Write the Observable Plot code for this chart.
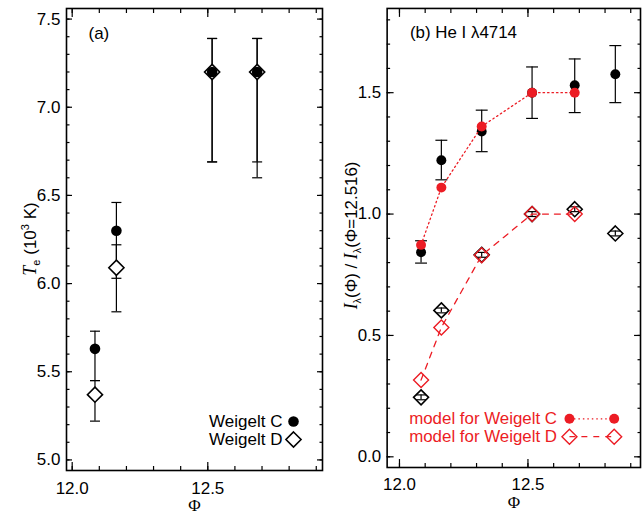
<!DOCTYPE html>
<html><head><meta charset="utf-8">
<script src="https://cdn.jsdelivr.net/npm/d3@7"></script>
<script src="https://cdn.jsdelivr.net/npm/@observablehq/plot@0.6"></script>
<style>
html,body{margin:0;padding:0;background:#fff;overflow:hidden;}
#wrap{position:relative;width:642px;height:514px;overflow:hidden;background:#fff;}
#pa{position:absolute;left:0;top:0;}
#pb{position:absolute;left:330px;top:0;}
svg{overflow:visible;}
</style></head><body><div id="wrap"><div id="pa"></div><div id="pb"></div></div>
<script>
// ---------- Panel (a): electron temperature ----------
const phiA  = [12.084, 12.163, 12.516, 12.682];
const teC   = [5.63, 6.30, 7.20, 7.20];
const teCLo = [5.45, 6.03, 6.69, 6.69];
const teCHi = [5.73, 6.46, 7.39, 7.39];
const teD   = [5.37, 6.09, 7.20, 7.20];
const teDLo = [5.22, 5.84, 6.69, 6.60];
const teDHi = [5.45, 6.22, 7.39, 7.39];

// ---------- Panel (b): He I 4714 normalised intensity ----------
const phiObs = [12.084, 12.163, 12.320, 12.516, 12.682, 12.840];
const obsC   = [0.843, 1.222, 1.340, 1.500, 1.531, 1.576];
const obsCLo = [0.798, 1.141, 1.257, 1.394, 1.418, 1.459];
const obsCHi = [0.890, 1.304, 1.428, 1.606, 1.639, 1.694];
const obsD   = [0.245, 0.603, 0.832, 1.000, 1.020, 0.920];
const obsDLo = [0.235, 0.593, 0.822, 0.990, 1.010, 0.910];
const obsDHi = [0.255, 0.613, 0.842, 1.010, 1.030, 0.930];
const phiModel = [12.084, 12.163, 12.320, 12.516, 12.682];
const modelC = [0.873, 1.109, 1.361, 1.500, 1.500];
const modelD = [0.316, 0.533, 0.830, 1.000, 1.000];

// ---------- ticks ----------
const xMajor  = [12.0, 12.5];
const xMinor  = [12.0, 12.1, 12.2, 12.3, 12.4, 12.5, 12.6, 12.7, 12.8, 12.9];
const yMajorA = [5.0, 5.5, 6.0, 6.5, 7.0, 7.5];
const yMinorA = d3.range(50, 76).map(v => v / 10);
const yMajorB = [0.0, 0.5, 1.0, 1.5];
const yMinorB = d3.range(0, 19).map(v => v / 10);

const legendA = ["Weigelt C", "Weigelt D"];
const legendB = ["model for Weigelt C", "model for Weigelt D"];

const RED = "#ec1c24";
const FONT = "Liberation Sans, Arial, Helvetica, sans-serif";
const SERIF = "Liberation Serif, DejaVu Serif, Times New Roman, serif";
const FS = 17;

const capSym = {draw(ctx, size) { const w = Math.sqrt(size / Math.PI); ctx.moveTo(-w, 0); ctx.lineTo(w, 0); }};
const fmt1 = d => d.toFixed(1);

function frameAndTicks(yMinor, yMajor, xMaj, yMaj) {
  const tk = {label: null, fill: "none", strokeWidth: 1.2, stroke: "black"};
  return [
    Plot.axisX(xMinor, {...tk, anchor: "bottom", tickSize: -4}),
    Plot.axisX(xMinor, {...tk, anchor: "top", tickSize: -4}),
    Plot.axisX(xMajor, {...tk, anchor: "bottom", tickSize: -xMaj}),
    Plot.axisX(xMajor, {...tk, anchor: "top", tickSize: -xMaj}),
    Plot.axisY(yMinor, {...tk, anchor: "left", tickSize: -3.5}),
    Plot.axisY(yMinor, {...tk, anchor: "right", tickSize: -3.5}),
    Plot.axisY(yMajor, {...tk, anchor: "left", tickSize: -yMaj}),
    Plot.axisY(yMajor, {...tk, anchor: "right", tickSize: -yMaj}),
    Plot.axisX(xMajor, {anchor: "bottom", tickSize: 0, tickPadding: 11, tickFormat: fmt1, label: null, fontSize: FS, fontFamily: FONT, fill: "black"}),
    Plot.axisY(yMajor, {anchor: "left", tickSize: 0, tickPadding: 6, tickFormat: fmt1, label: null, fontSize: FS, fontFamily: FONT, fill: "black"}),
    Plot.frame({stroke: "black", strokeWidth: 1.6}),
    Plot.text(["Φ"], {frameAnchor: "bottom", lineAnchor: "middle", dy: 35, fontFamily: SERIF, fontSize: FS, fill: "black"})
  ];
}

// ---------- Panel (a) ----------
const rowsA = phiA.map((x, i) => ({x, c: teC[i], cLo: teCLo[i], cHi: teCHi[i], d: teD[i], dLo: teDLo[i], dHi: teDHi[i]}));
const plotA = Plot.plot({
  width: 330, height: 514,
  marginLeft: 66, marginRight: 8, marginTop: 8, marginBottom: 44,
  style: {fontFamily: FONT, fontSize: FS + "px", background: "white", color: "black"},
  x: {domain: [11.979, 12.923]},
  y: {domain: [4.94, 7.56]},
  marks: [
    ...frameAndTicks(yMinorA, yMajorA, 8, 6),
    Plot.ruleX(rowsA, {x: "x", y1: "cLo", y2: "cHi", stroke: "black", strokeWidth: 1.2}),
    Plot.dot(rowsA, {x: "x", y: "cLo", symbol: capSym, r: 5, stroke: "black", strokeWidth: 1.2}),
    Plot.dot(rowsA, {x: "x", y: "cHi", symbol: capSym, r: 5, stroke: "black", strokeWidth: 1.2}),
    Plot.ruleX(rowsA, {x: "x", y1: "dLo", y2: "dHi", stroke: "black", strokeWidth: 1.2}),
    Plot.dot(rowsA, {x: "x", y: "dLo", symbol: capSym, r: 5, stroke: "black", strokeWidth: 1.2}),
    Plot.dot(rowsA, {x: "x", y: "dHi", symbol: capSym, r: 5, stroke: "black", strokeWidth: 1.2}),
    Plot.dot(rowsA, {x: "x", y: "d", symbol: "diamond2", r: 6.8, fill: "white", stroke: "black", strokeWidth: 1.6}),
    Plot.dot(rowsA, {x: "x", y: "c", r: 5.3, fill: "black"}),
    Plot.text(["(a)"], {frameAnchor: "top-left", lineAnchor: "middle", dx: 22, dy: 25, textAnchor: "start", fontSize: FS, fill: "black"}),
    Plot.text([legendA[0]], {frameAnchor: "bottom-right", lineAnchor: "middle", dx: -40, dy: -49, textAnchor: "end", fontSize: FS, fill: "black"}),
    Plot.text([legendA[1]], {frameAnchor: "bottom-right", lineAnchor: "middle", dx: -40, dy: -31, textAnchor: "end", fontSize: FS, fill: "black"}),
    Plot.dot([legendA[0]], {frameAnchor: "bottom-right", dx: -29, dy: -49, r: 5.3, fill: "black"}),
    Plot.dot([legendA[1]], {frameAnchor: "bottom-right", dx: -29, dy: -31, symbol: "diamond2", r: 6.8, fill: "white", stroke: "black", strokeWidth: 1.6})
  ]
});

// ---------- Panel (b) ----------
const rowsObs = phiObs.map((x, i) => ({x, c: obsC[i], cLo: obsCLo[i], cHi: obsCHi[i], d: obsD[i], dLo: obsDLo[i], dHi: obsDHi[i]}));
const rowsMod = phiModel.map((x, i) => ({x, c: modelC[i], d: modelD[i]}));
const lineSym = {draw(ctx, size) { const w = Math.sqrt(size / Math.PI); ctx.moveTo(-w, 0); ctx.lineTo(w, 0); }};
const plotB = Plot.plot({
  width: 314, height: 514,
  marginLeft: 57, marginRight: 2, marginTop: 8, marginBottom: 44,
  style: {fontFamily: FONT, fontSize: FS + "px", background: "white", color: "black"},
  x: {domain: [11.952, 12.938]},
  y: {domain: [-0.044, 1.847]},
  marks: [
    ...frameAndTicks(yMinorB, yMajorB, 8, 7),
    Plot.ruleX(rowsObs, {x: "x", y1: "cLo", y2: "cHi", stroke: "black", strokeWidth: 1.2}),
    Plot.dot(rowsObs, {x: "x", y: "cLo", symbol: capSym, r: 6, stroke: "black", strokeWidth: 1.2}),
    Plot.dot(rowsObs, {x: "x", y: "cHi", symbol: capSym, r: 6, stroke: "black", strokeWidth: 1.2}),
    Plot.dot(rowsObs, {x: "x", y: "c", r: 5, fill: "black"}),
    Plot.ruleX(rowsObs, {x: "x", y1: "dLo", y2: "dHi", stroke: "black", strokeWidth: 1.2}),
    Plot.dot(rowsObs, {x: "x", y: "dLo", symbol: capSym, r: 5, stroke: "black", strokeWidth: 1.2}),
    Plot.dot(rowsObs, {x: "x", y: "dHi", symbol: capSym, r: 5, stroke: "black", strokeWidth: 1.2}),
    Plot.dot(rowsObs, {x: "x", y: "d", symbol: "diamond2", r: 6.8, fill: "none", stroke: "black", strokeWidth: 1.6}),
    Plot.line(rowsMod, {x: "x", y: "c", stroke: RED, strokeWidth: 1.3, strokeDasharray: "1.5,3"}),
    Plot.line(rowsMod, {x: "x", y: "d", stroke: RED, strokeWidth: 1.3, strokeDasharray: "6,6"}),
    Plot.dot(rowsMod, {x: "x", y: "c", r: 5, fill: RED}),
    Plot.dot(rowsMod, {x: "x", y: "d", symbol: "diamond2", r: 6.8, fill: "none", stroke: RED, strokeWidth: 1.4}),
    Plot.text(["(b) He I λ4714"], {frameAnchor: "top-left", lineAnchor: "middle", dx: 23, dy: 24, textAnchor: "start", fontSize: FS, fill: "black"}),
    Plot.text([legendB[0]], {frameAnchor: "bottom-right", lineAnchor: "middle", dx: -84, dy: -49, textAnchor: "end", fontSize: FS, fill: RED}),
    Plot.text([legendB[1]], {frameAnchor: "bottom-right", lineAnchor: "middle", dx: -84, dy: -31, textAnchor: "end", fontSize: FS, fill: RED}),
    Plot.dot([legendB[0]], {frameAnchor: "bottom-right", dx: -49, dy: -49, symbol: lineSym, r: 22.5, fill: "none", stroke: RED, strokeWidth: 1.3, strokeDasharray: "1.5,3"}),
    Plot.dot([legendB[1]], {frameAnchor: "bottom-right", dx: -49, dy: -31, symbol: lineSym, r: 22.5, fill: "none", stroke: RED, strokeWidth: 1.3, strokeDasharray: "6,6"}),
    Plot.dot([legendB[0]], {frameAnchor: "bottom-right", dx: -71.5, dy: -49, r: 5, fill: RED}),
    Plot.dot([legendB[0]], {frameAnchor: "bottom-right", dx: -26.5, dy: -49, r: 5, fill: RED}),
    Plot.dot([legendB[1]], {frameAnchor: "bottom-right", dx: -71.5, dy: -31, symbol: "diamond2", r: 6.8, fill: "none", stroke: RED, strokeWidth: 1.4}),
    Plot.dot([legendB[1]], {frameAnchor: "bottom-right", dx: -26.5, dy: -31, symbol: "diamond2", r: 6.8, fill: "none", stroke: RED, strokeWidth: 1.4})
  ]
});

// ---------- y-axis titles with sub/superscripts ----------
function addYLabel(svg, x, y, parts) {
  const t = d3.select(svg).append("text")
    .attr("transform", `translate(${x},${y}) rotate(-90)`)
    .attr("text-anchor", "middle")
    .attr("font-family", FONT).attr("font-size", FS).attr("fill", "black");
  for (const p of parts) {
    const s = t.append("tspan").text(p.t);
    if (p.it) s.attr("font-family", SERIF).attr("font-style", "italic").attr("font-size", FS + 1);
    if (p.fs) s.attr("font-size", p.fs);
    if (p.dy) s.attr("dy", p.dy);
  }
}
addYLabel(plotA, 36, 239, [
  {t: "T", it: true}, {t: "e", fs: 11, dy: 4}, {t: " (10", dy: -4}, {t: "3", fs: 11, dy: -7}, {t: " K)", dy: 7}
]);
addYLabel(plotB, 27, 237, [
  {t: "I", it: true}, {t: "λ", fs: 11, dy: 4}, {t: "(Φ) / ", dy: -4},
  {t: "I", it: true}, {t: "λ", fs: 11, dy: 4}, {t: "(Φ=12.516)", dy: -4}
]);

document.getElementById("pa").appendChild(plotA);
document.getElementById("pb").appendChild(plotB);
</script>
</body></html>
